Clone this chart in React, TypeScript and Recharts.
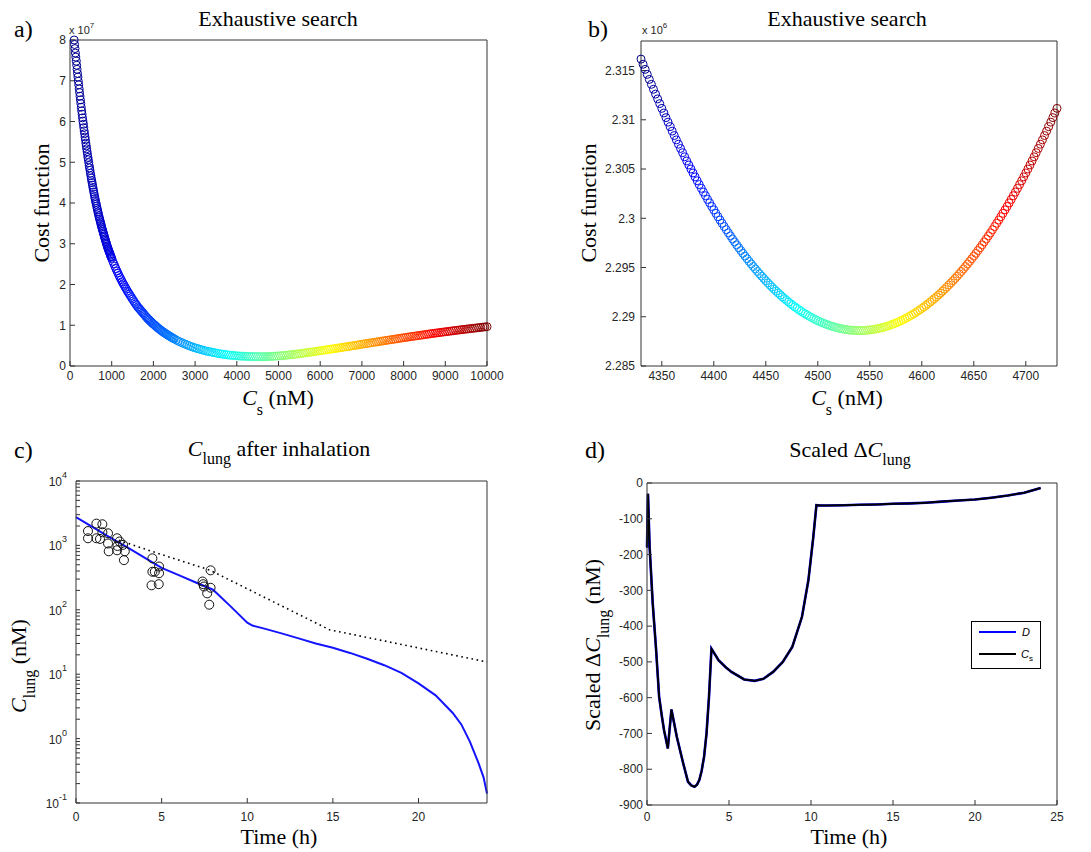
import React from 'react';
import { ScatterChart, Scatter, XAxis, YAxis, ComposedChart, Line, LineChart, Legend } from 'recharts';

// ---------------- Panel a: exhaustive search, wide range ----------------
const csA = [
  100,110,120,130,140,150,160,170,180,190,
  200,210,220,230,240,250,260,270,280,290,
  300,310,320,330,340,350,360,370,380,390,
  400,410,420,430,440,450,460,470,480,490,
  500,510,520,530,540,550,560,570,580,590,
  600,610,620,630,640,650,660,670,680,690,
  700,710,720,730,740,750,760,770,780,790,
  800,810,820,830,840,850,860,870,880,890,
  900,910,920,930,940,950,960,970,980,990,
  1000,
  1025,1050,1075,1100,1125,1150,1175,1200,1225,1250,
  1275,1300,1325,1350,1375,1400,1425,1450,1475,1500,
  1525,1550,1575,1600,1625,1650,1675,1700,1725,1750,
  1775,1800,1825,1850,1875,1900,1925,1950,1975,2000,
  2025,2050,2075,2100,2125,2150,2175,2200,2225,2250,
  2275,2300,2325,2350,2375,2400,2425,2450,2475,2500,
  2550,2600,2650,2700,2750,2800,2850,2900,2950,3000,
  3050,3100,3150,3200,3250,3300,3350,3400,3450,3500,
  3550,3600,3650,3700,3750,3800,3850,3900,3950,4000,
  4050,4100,4150,4200,4250,4300,4350,4400,4450,4500,
  4550,4600,4650,4700,4750,4800,4850,4900,4950,5000,
  5050,5100,5150,5200,5250,5300,5350,5400,5450,5500,
  5550,5600,5650,5700,5750,5800,5850,5900,5950,6000,
  6050,6100,6150,6200,6250,6300,6350,6400,6450,6500,
  6550,6600,6650,6700,6750,6800,6850,6900,6950,7000,
  7050,7100,7150,7200,7250,7300,7350,7400,7450,7500,
  7550,7600,7650,7700,7750,7800,7850,7900,7950,8000,
  8050,8100,8150,8200,8250,8300,8350,8400,8450,8500,
  8550,8600,8650,8700,8750,8800,8850,8900,8950,9000,
  9050,9100,9150,9200,9250,9300,9350,9400,9450,9500,
  9550,9600,9650,9700,9750,9800,9850,9900,9950,10000,
];
// cost function (x 10^7)
const costA = [
  8.00,7.89,7.79,7.68,7.58,7.48,7.38,7.28,7.18,7.09,
  6.99,6.90,6.80,6.71,6.62,6.53,6.44,6.35,6.26,6.18,
  6.09,6.01,5.93,5.85,5.77,5.70,5.62,5.55,5.47,5.40,
  5.33,5.26,5.19,5.12,5.06,4.99,4.92,4.86,4.80,4.73,
  4.67,4.61,4.55,4.50,4.44,4.38,4.33,4.27,4.22,4.16,
  4.11,4.06,4.01,3.97,3.92,3.87,3.83,3.78,3.74,3.69,
  3.65,3.61,3.57,3.53,3.49,3.45,3.41,3.37,3.34,3.30,
  3.26,3.23,3.19,3.16,3.12,3.09,3.05,3.02,2.99,2.95,
  2.92,2.89,2.86,2.83,2.80,2.78,2.75,2.72,2.69,2.67,
  2.64,
  2.57,2.51,2.45,2.39,2.33,2.28,2.22,2.17,2.12,2.07,
  2.02,1.98,1.93,1.89,1.84,1.80,1.76,1.72,1.68,1.64,
  1.60,1.56,1.52,1.49,1.45,1.42,1.39,1.36,1.33,1.30,
  1.27,1.24,1.21,1.18,1.15,1.13,1.10,1.08,1.05,1.03,
  1.01,0.985,0.962,0.94,0.92,0.90,0.88,0.86,0.842,0.825,
  0.807,0.79,0.773,0.757,0.741,0.725,0.71,0.695,0.68,0.665,
  0.637,0.61,0.587,0.565,0.542,0.52,0.50,0.48,0.462,0.445,
  0.43,0.415,0.40,0.385,0.372,0.36,0.35,0.34,0.33,0.32,
  0.31,0.30,0.292,0.285,0.277,0.27,0.265,0.26,0.255,0.25,
  0.246,0.243,0.24,0.238,0.235,0.233,0.232,0.231,0.23,0.229,
  0.229,0.229,0.229,0.23,0.232,0.234,0.237,0.24,0.243,0.247,
  0.251,0.256,0.261,0.266,0.271,0.277,0.283,0.289,0.295,0.302,
  0.309,0.316,0.323,0.33,0.337,0.345,0.352,0.36,0.367,0.375,
  0.382,0.39,0.397,0.405,0.412,0.42,0.428,0.436,0.444,0.452,
  0.46,0.468,0.476,0.484,0.492,0.50,0.508,0.517,0.525,0.534,
  0.542,0.55,0.558,0.566,0.574,0.582,0.59,0.598,0.606,0.614,
  0.622,0.63,0.638,0.646,0.654,0.662,0.67,0.678,0.686,0.694,
  0.701,0.709,0.716,0.724,0.731,0.739,0.746,0.754,0.761,0.769,
  0.776,0.784,0.791,0.798,0.805,0.812,0.819,0.826,0.833,0.84,
  0.846,0.853,0.86,0.866,0.873,0.879,0.886,0.892,0.899,0.905,
  0.911,0.917,0.923,0.929,0.935,0.941,0.947,0.953,0.959,0.965,
];
const aXTicks = [0,1000,2000,3000,4000,5000,6000,7000,8000,9000,10000];
const aYTicks = [0,1,2,3,4,5,6,7,8];

// ---------------- Panel b: exhaustive search, zoomed ----------------
const csB = [
  4330,4332,4334,4336,4338,4340,4342,4344,4346,4348,
  4350,4352,4354,4356,4358,4360,4362,4364,4366,4368,
  4370,4372,4374,4376,4378,4380,4382,4384,4386,4388,
  4390,4392,4394,4396,4398,4400,4402,4404,4406,4408,
  4410,4412,4414,4416,4418,4420,4422,4424,4426,4428,
  4430,4432,4434,4436,4438,4440,4442,4444,4446,4448,
  4450,4452,4454,4456,4458,4460,4462,4464,4466,4468,
  4470,4472,4474,4476,4478,4480,4482,4484,4486,4488,
  4490,4492,4494,4496,4498,4500,4502,4504,4506,4508,
  4510,4512,4514,4516,4518,4520,4522,4524,4526,4528,
  4530,4532,4534,4536,4538,4540,4542,4544,4546,4548,
  4550,4552,4554,4556,4558,4560,4562,4564,4566,4568,
  4570,4572,4574,4576,4578,4580,4582,4584,4586,4588,
  4590,4592,4594,4596,4598,4600,4602,4604,4606,4608,
  4610,4612,4614,4616,4618,4620,4622,4624,4626,4628,
  4630,4632,4634,4636,4638,4640,4642,4644,4646,4648,
  4650,4652,4654,4656,4658,4660,4662,4664,4666,4668,
  4670,4672,4674,4676,4678,4680,4682,4684,4686,4688,
  4690,4692,4694,4696,4698,4700,4702,4704,4706,4708,
  4710,4712,4714,4716,4718,4720,4722,4724,4726,4728,
  4730,
];
// cost function (x 10^6)
const costB = [
  2.31616,2.31564,2.31512,2.31461,2.31410,2.31360,2.31310,2.31261,2.31212,2.31164,
  2.31116,2.31069,2.31022,2.30976,2.30930,2.30885,2.30840,2.30796,2.30752,2.30709,
  2.30666,2.30624,2.30582,2.30541,2.30500,2.30460,2.30420,2.30381,2.30342,2.30304,
  2.30266,2.30229,2.30192,2.30156,2.30120,2.30085,2.30050,2.30016,2.29982,2.29949,
  2.29916,2.29884,2.29852,2.29821,2.29790,2.29760,2.29730,2.29701,2.29672,2.29644,
  2.29616,2.29589,2.29562,2.29536,2.29510,2.29485,2.29460,2.29436,2.29412,2.29389,
  2.29366,2.29344,2.29322,2.29301,2.29280,2.29260,2.29240,2.29221,2.29202,2.29184,
  2.29166,2.29149,2.29132,2.29116,2.29100,2.29085,2.29070,2.29056,2.29042,2.29029,
  2.29016,2.29004,2.28992,2.28981,2.28970,2.28960,2.28950,2.28941,2.28932,2.28924,
  2.28916,2.28909,2.28902,2.28896,2.28890,2.28885,2.28880,2.28876,2.28872,2.28869,
  2.28866,2.28864,2.28862,2.28861,2.28860,2.28860,2.28860,2.28861,2.28862,2.28864,
  2.28866,2.28869,2.28872,2.28876,2.28880,2.28885,2.28890,2.28896,2.28902,2.28909,
  2.28916,2.28924,2.28932,2.28941,2.28950,2.28960,2.28970,2.28981,2.28992,2.29004,
  2.29016,2.29029,2.29042,2.29056,2.29070,2.29085,2.29100,2.29116,2.29132,2.29149,
  2.29166,2.29184,2.29202,2.29221,2.29240,2.29260,2.29280,2.29301,2.29322,2.29344,
  2.29366,2.29389,2.29412,2.29436,2.29460,2.29485,2.29510,2.29536,2.29562,2.29589,
  2.29616,2.29644,2.29672,2.29701,2.29730,2.29760,2.29790,2.29821,2.29852,2.29884,
  2.29916,2.29949,2.29982,2.30016,2.30050,2.30085,2.30120,2.30156,2.30192,2.30229,
  2.30266,2.30304,2.30342,2.30381,2.30420,2.30460,2.30500,2.30541,2.30582,2.30624,
  2.30666,2.30709,2.30752,2.30796,2.30840,2.30885,2.30930,2.30976,2.31022,2.31069,
  2.31116,
];
const bXTicks = [4350,4400,4450,4500,4550,4600,4650,4700];
const bYTicks = [2.285,2.29,2.295,2.3,2.305,2.31,2.315];

// ---------------- Panel c: C_lung after inhalation ----------------
const cModelT = [0,1,2,3,4,5,6,7,8,9,10,10.3,11,12,13,14,15,16,17,18,19,20,21,22,22.5,23,23.5,23.8,24];
const cModel = [2750,1900,1320,930,645,447,345,265,205,115,63,57,51,43,36,30,25.7,21.4,17.4,13.8,10.5,7.2,4.7,2.5,1.66,0.9,0.42,0.25,0.14];
const cSimT = [2.5,5,7.8,14.8,24];
const cSim = [1200,720,415,49,15.5];
const cObsT = [0.70,0.70,1.19,1.19,1.54,1.54,1.40,1.87,1.87,1.91,2.40,2.42,2.40,2.55,2.75,2.85,2.80,
  4.46,4.46,4.41,4.85,4.85,4.83,4.60,
  7.39,7.43,7.47,7.86,7.86,7.66,7.78];
const cObs = [1670,1290,2180,1290,2130,1600,1260,1540,1070,810,1290,980,840,1150,1020,810,590,
  630,390,240,470,370,250,390,
  275,250,230,410,220,180,120];
const cXTicks = [0,5,10,15,20];
const cYTicks = [0.1,0.2,0.3,0.4,0.5,0.6,0.7,0.8,0.9,1,2,3,4,5,6,7,8,9,10,20,30,40,50,60,70,80,90,
  100,200,300,400,500,600,700,800,900,1000,2000,3000,4000,5000,6000,7000,8000,9000,10000];

// ---------------- Panel d: scaled delta C_lung ----------------
const dT = [0,0.06,0.16,0.35,0.55,0.74,0.9,1.04,1.18,1.27,1.49,1.82,2.21,2.5,2.7,2.9,3.05,3.19,3.33,3.48,3.63,3.78,3.93,
  4.36,4.8,5.15,5.93,6.56,7.1,7.69,8.28,8.86,9.45,9.84,10.14,10.33,10.6,11,12,13,14,15,16,17,18,19,20,21,22,23,24];
const dDeltaD = [-180,-30,-179,-337,-463,-598,-650,-691,-722,-742,-633,-710,-784,-835,-845,-849,-843,-830,-805,-765,-700,-598,-463,
  -495,-515,-528,-549,-553,-547,-528,-500,-458,-374,-272,-151,-62,-63,-63,-62,-61,-60,-58,-57,-55,-52,-49,-46,-41,-35,-27,-14];
const dDeltaCs = [-180,-30,-179,-337,-463,-598,-650,-691,-722,-742,-633,-710,-784,-835,-845,-849,-843,-830,-805,-765,-700,-598,-463,
  -495,-515,-528,-549,-553,-547,-528,-500,-458,-374,-272,-151,-62,-63,-63,-62,-61,-60,-58,-57,-55,-52,-49,-46,-41,-35,-27,-14];
const dXTicks = [0,5,10,15,20,25];
const dYTicks = [-900,-800,-700,-600,-500,-400,-300,-200,-100,0];

// ---------------- styling helpers ----------------
const SERIF = '"Liberation Serif", "Times New Roman", serif';
const SANS = '"Liberation Sans", Arial, sans-serif';
const AX = '#333';
const TICK = { fontSize: 12, fill: '#262626', fontFamily: SANS };

const clamp = (v: number) => Math.max(0, Math.min(1, v));
function jet(t: number) {
  const r = clamp(1.5 - Math.abs(4 * t - 3));
  const g = clamp(1.5 - Math.abs(4 * t - 2));
  const b = clamp(1.5 - Math.abs(4 * t - 1));
  return `rgb(${Math.round(r * 255)},${Math.round(g * 255)},${Math.round(b * 255)})`;
}

const dataA = csA.map((x, i) => ({ x, y: costA[i], c: jet(x / 10000) }));
const dataB = csB.map((x, i) => ({ x, y: costB[i], c: jet((x - 4330) / 400) }));
const modelC = cModelT.map((x, i) => ({ x, y: cModel[i] }));
const simC = cSimT.map((x, i) => ({ x, y: cSim[i] }));
const obsC = cObsT.map((x, i) => ({ x, y: cObs[i] }));
const dataD = dT.map((x, i) => ({ x, d: dDeltaD[i], cs: dDeltaCs[i] }));

const ring = (p: any) => (
  <circle cx={p.cx} cy={p.cy} r={4} fill="none" stroke={(p.payload && p.payload.c) || p.c} strokeWidth={1} />
);
const obsRing = (p: any) => (
  <circle cx={p.cx} cy={p.cy} r={4.5} fill="none" stroke="#111" strokeWidth={1} />
);

const LogTick = (p: any) => {
  const v = p.payload.value;
  const lg = Math.log10(v);
  const e = Math.round(lg);
  if (Math.abs(lg - e) > 1e-6) return <g />;
  return (
    <text x={p.x} y={p.y} textAnchor="end" fontFamily={SANS} fontSize={12} fill="#262626">
      <tspan dy={5}>10</tspan>
      <tspan dy={-8} fontSize={9}>{e}</tspan>
    </text>
  );
};

const LegendBox = () => (
  <div style={{ width: 70, height: 48, border: '1px solid #000', background: '#fff', boxSizing: 'border-box' }}>
    <svg width={68} height={46} style={{ display: 'block' }}>
      <line x1={7} x2={44} y1={10} y2={10} stroke="#0000ff" strokeWidth={2} />
      <text x={50} y={14} fontFamily={SANS} fontSize={11} fontStyle="italic" fill="#000">D</text>
      <line x1={7} x2={44} y1={32} y2={32} stroke="#000" strokeWidth={2} />
      <text x={49} y={36} fontFamily={SANS} fontSize={11} fill="#000">
        <tspan fontStyle="italic">C</tspan>
        <tspan fontSize={8} dy={3}>s</tspan>
      </text>
    </svg>
  </div>
);

export default function App() {
  return (
    <div style={{ position: 'absolute', left: 0, top: 0, width: 1091, height: 852, background: '#fff', overflow: 'hidden' }}>
      {/* Panel a */}
      <div style={{ position: 'absolute', left: 0, top: 0 }}>
        <ScatterChart width={545} height={420} margin={{ top: 39, right: 57, bottom: 24, left: 30 }}>
          <XAxis xAxisId="b" type="number" dataKey="x" domain={[0, 10000]} ticks={aXTicks} interval={0}
            tickSize={-5} tickMargin={10} height={30} stroke={AX} tick={TICK} />
          <XAxis xAxisId="t" orientation="top" type="number" domain={[0, 10000]} ticks={aXTicks} interval={0}
            tickSize={-5} height={1} stroke={AX} tick={false} />
          <YAxis yAxisId="l" type="number" dataKey="y" domain={[0, 8]} ticks={aYTicks} interval={0}
            tickSize={-5} tickMargin={9} width={40} stroke={AX} tick={TICK} />
          <YAxis yAxisId="r" orientation="right" type="number" domain={[0, 8]} ticks={aYTicks} interval={0}
            tickSize={-5} width={1} stroke={AX} tick={false} />
          <Scatter xAxisId="b" yAxisId="l" data={dataA} shape={ring} isAnimationActive={false} />
        </ScatterChart>
      </div>

      {/* Panel b */}
      <div style={{ position: 'absolute', left: 545, top: 0 }}>
        <ScatterChart width={546} height={420} margin={{ top: 40, right: 33, bottom: 24, left: 46 }}>
          <XAxis xAxisId="b" type="number" dataKey="x" domain={[4330, 4730]} ticks={bXTicks} interval={0}
            tickSize={-5} tickMargin={10} height={30} stroke={AX} tick={TICK} />
          <XAxis xAxisId="t" orientation="top" type="number" domain={[4330, 4730]} ticks={bXTicks} interval={0}
            tickSize={-5} height={1} stroke={AX} tick={false} />
          <YAxis yAxisId="l" type="number" dataKey="y" domain={[2.285, 2.318]} ticks={bYTicks} interval={0}
            tickSize={-5} tickMargin={11} width={50} stroke={AX} tick={TICK} />
          <YAxis yAxisId="r" orientation="right" type="number" domain={[2.285, 2.318]} ticks={bYTicks} interval={0}
            tickSize={-5} width={1} stroke={AX} tick={false} />
          <Scatter xAxisId="b" yAxisId="l" data={dataB} shape={ring} isAnimationActive={false} />
        </ScatterChart>
      </div>

      {/* Panel c */}
      <div style={{ position: 'absolute', left: 0, top: 420 }}>
        <ComposedChart width={545} height={432} margin={{ top: 60, right: 57, bottom: 19, left: 36 }}>
          <XAxis xAxisId="b" type="number" dataKey="x" domain={[0, 24]} ticks={cXTicks} interval={0}
            tickSize={-5} tickMargin={14} height={30} stroke={AX} tick={TICK} />
          <XAxis xAxisId="t" orientation="top" type="number" domain={[0, 24]} ticks={cXTicks} interval={0}
            tickSize={-5} height={1} stroke={AX} tick={false} />
          <YAxis yAxisId="l" type="number" scale="log" dataKey="y" domain={[0.1, 10000]} ticks={cYTicks} interval={0}
            tickSize={-4} tickMargin={13} width={40} stroke={AX} tick={(p: any) => <LogTick {...p} />} />
          <YAxis yAxisId="r" orientation="right" type="number" scale="log" domain={[0.1, 10000]} ticks={cYTicks} interval={0}
            tickSize={-4} width={1} stroke={AX} tick={false} />
          <Line xAxisId="b" yAxisId="l" data={simC} dataKey="y" type="linear" stroke="#000" strokeWidth={1.6}
            strokeDasharray="1.6 3.6" dot={false} isAnimationActive={false} />
          <Line xAxisId="b" yAxisId="l" data={modelC} dataKey="y" type="linear" stroke="#1414ff" strokeWidth={2}
            dot={false} isAnimationActive={false} />
          <Scatter xAxisId="b" yAxisId="l" data={obsC} dataKey="y" shape={obsRing} isAnimationActive={false} />
        </ComposedChart>
      </div>

      {/* Panel d */}
      <div style={{ position: 'absolute', left: 545, top: 420 }}>
        <LineChart width={546} height={432} data={dataD} margin={{ top: 62, right: 33, bottom: 17, left: 52 }}>
          <XAxis xAxisId="b" type="number" dataKey="x" domain={[0, 25]} ticks={dXTicks} interval={0}
            tickSize={-5} tickMargin={12} height={30} stroke={AX} tick={TICK} />
          <XAxis xAxisId="t" orientation="top" type="number" domain={[0, 25]} ticks={dXTicks} interval={0}
            tickSize={-5} height={1} stroke={AX} tick={false} />
          <YAxis yAxisId="l" type="number" domain={[-900, 0]} ticks={dYTicks} interval={0}
            tickSize={-5} tickMargin={9} width={50} stroke={AX} tick={TICK} />
          <YAxis yAxisId="r" orientation="right" type="number" domain={[-900, 0]} ticks={dYTicks} interval={0}
            tickSize={-5} width={1} stroke={AX} tick={false} />
          <Line xAxisId="b" yAxisId="l" dataKey="d" name="D" type="linear" stroke="#0000ff" strokeWidth={2.6}
            dot={false} isAnimationActive={false} />
          <Line xAxisId="b" yAxisId="l" dataKey="cs" name="Cs" type="linear" stroke="#000" strokeWidth={2}
            dot={false} isAnimationActive={false} />
          <Legend layout="vertical" align="center" verticalAlign="middle"
            wrapperStyle={{ position: 'absolute', left: 426, top: 201, width: 70, height: 48 }}
            content={() => <LegendBox />} />
        </LineChart>
      </div>

      {/* Titles, labels, panel letters */}
      <svg width={1091} height={852} style={{ position: 'absolute', left: 0, top: 0, pointerEvents: 'none' }}
        fontFamily={SERIF} fill="#000">
        <text x={14} y={37} fontSize={24}>a)</text>
        <text x={588} y={37} fontSize={24}>b)</text>
        <text x={14} y={458} fontSize={24}>c)</text>
        <text x={585} y={458} fontSize={24}>d)</text>

        <text x={278} y={26} fontSize={22} textAnchor="middle">Exhaustive search</text>
        <text x={847} y={26} fontSize={22} textAnchor="middle">Exhaustive search</text>
        <text x={279} y={456} fontSize={22} textAnchor="middle">
          <tspan fontStyle="italic">C</tspan>
          <tspan fontSize={16} dy={8}>lung</tspan>
          <tspan dy={-8}> after inhalation</tspan>
        </text>
        <text x={850} y={457} fontSize={22} textAnchor="middle">
          <tspan>Scaled Δ</tspan>
          <tspan fontStyle="italic">C</tspan>
          <tspan fontSize={16} dy={8}>lung</tspan>
        </text>

        <text x={69} y={34} fontSize={11} fontFamily={SANS} fill="#262626">
          x 10<tspan dy={-6} fontSize={8}>7</tspan>
        </text>
        <text x={642} y={34} fontSize={11} fontFamily={SANS} fill="#262626">
          x 10<tspan dy={-6} fontSize={8}>6</tspan>
        </text>

        <text x={278} y={405} fontSize={22} textAnchor="middle">
          <tspan fontStyle="italic">C</tspan>
          <tspan fontSize={16} dy={10}>s</tspan>
          <tspan dy={-10}> (nM)</tspan>
        </text>
        <text x={847} y={405} fontSize={22} textAnchor="middle">
          <tspan fontStyle="italic">C</tspan>
          <tspan fontSize={16} dy={10}>s</tspan>
          <tspan dy={-10}> (nM)</tspan>
        </text>
        <text x={279} y={844} fontSize={22} textAnchor="middle">Time (h)</text>
        <text x={849} y={844} fontSize={22} textAnchor="middle">Time (h)</text>

        <text x={49} y={203} fontSize={22} textAnchor="middle" transform="rotate(-90 49 203)">Cost function</text>
        <text x={596} y={203} fontSize={22} textAnchor="middle" transform="rotate(-90 596 203)">Cost function</text>
        <text x={26} y={666} fontSize={22} textAnchor="middle" transform="rotate(-90 26 666)">
          <tspan fontStyle="italic">C</tspan>
          <tspan fontSize={16} dy={9}>lung</tspan>
          <tspan dy={-9}> (nM)</tspan>
        </text>
        <text x={600} y={645} fontSize={22} textAnchor="middle" transform="rotate(-90 600 645)">
          <tspan>Scaled Δ</tspan>
          <tspan fontStyle="italic">C</tspan>
          <tspan fontSize={16} dy={9}>lung</tspan>
          <tspan dy={-9}>   (nM)</tspan>
        </text>
      </svg>
    </div>
  );
}
